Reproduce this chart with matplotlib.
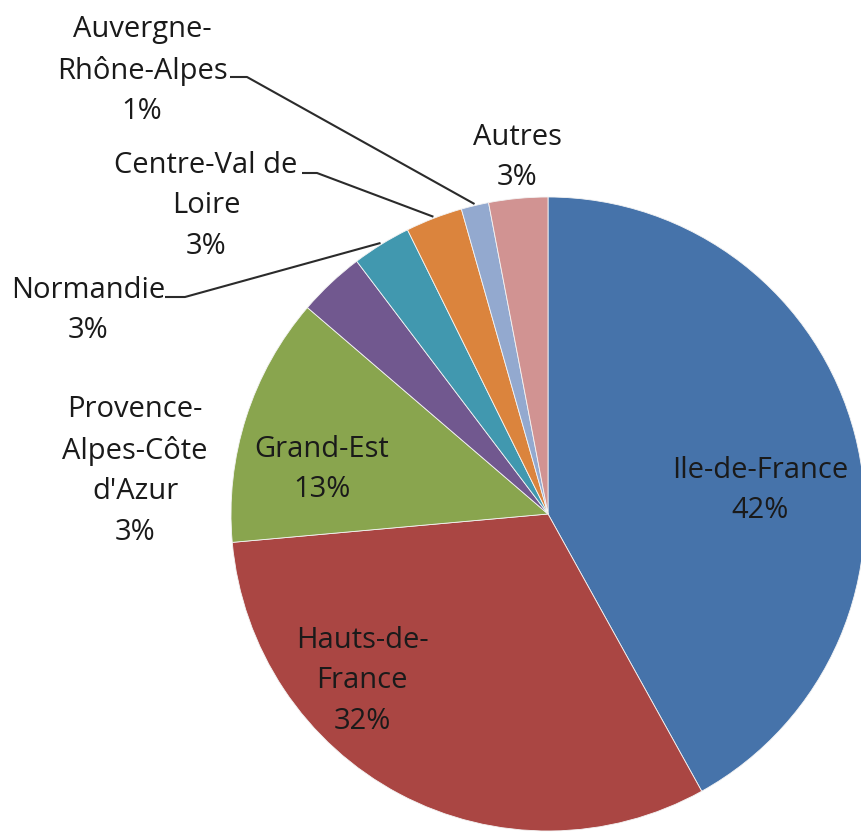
import matplotlib
matplotlib.use("Agg")
import matplotlib.pyplot as plt
import numpy as np

# ---- data ----
categories = ["Ile-de-France", "Hauts-de-France", "Grand-Est",
              "Provence-Alpes-Côte d'Azur", "Normandie", "Centre-Val de Loire",
              "Auvergne-Rhône-Alpes", "Autres"]
shares = [41.9, 31.6, 12.7, 3.4, 3.0, 2.9, 1.4, 3.0]
display_names = ["Ile-de-France", "Hauts-de-\nFrance", "Grand-Est",
                 "Provence-\nAlpes-Côte\nd'Azur", "Normandie", "Centre-Val de\nLoire",
                 "Auvergne-\nRhône-Alpes", "Autres"]
colors = ["#4673AA", "#AA4643", "#89A54E", "#71588F",
          "#4198AF", "#DB843D", "#93A9CF", "#D19392"]

# ---- layout (pixels of the 862x832 image) ----
W, H = 862, 832
CX, CY, R = 548, 514, 317
# first-line baseline position of each label (centre x, baseline y)
label_pos = [(760, 478), (362, 648), (322, 457), (135, 417),
             (88, 298), (206, 173), (142, 37), (517, 145)]
# leader lines: (text-end x, y, elbow x) ; None = no leader
leaders = [None, None, None, None,
           (165, 297, 185), (302, 173, 317), (230, 77, 247), None]

FS = 21            # points
EM = FS * 100 / 72  # pixels
LINESP = 1.52

def px(x, y):
    return (x - CX) / R, (CY - y) / R

plt.rcParams['font.family'] = ['Open Sans', 'DejaVu Sans']
fig = plt.figure(figsize=(W / 100, H / 100), dpi=100)
ax = fig.add_axes([0, 0, 1, 1])

wedges, _ = ax.pie(shares, colors=colors, startangle=90, counterclock=False,
                   radius=1.0, wedgeprops=dict(edgecolor="#f4f4f4", linewidth=0.6))

ax.set_xlim(-CX / R, (W - CX) / R)
ax.set_ylim(-(H - CY) / R, CY / R)
ax.set_aspect('equal')
ax.axis('off')

total = sum(shares)
for i, (name, v) in enumerate(zip(display_names, shares)):
    pct = round(v / total * 100)
    txt = f"{name}\n{pct}%"
    x, b1 = label_pos[i]
    top = b1 - 0.76 * EM
    tx, ty = px(x, top)
    ax.text(tx, ty, txt, ha='center', va='top', multialignment='center',
            fontsize=FS, color='#1a1a1a', linespacing=LINESP)
    if leaders[i] is not None:
        sx, sy, ex = leaders[i]
        w = wedges[i]
        mid = np.deg2rad((w.theta1 + w.theta2) / 2)
        p0 = px(sx, sy)
        p1 = px(ex, sy)
        p2 = (1.005 * np.cos(mid), 1.005 * np.sin(mid))
        ax.plot([p0[0], p1[0], p2[0]], [p0[1], p1[1], p2[1]],
                color='#2b2b2b', lw=1.5, solid_capstyle='butt')

fig.savefig("out.png", dpi=100, facecolor='white')
